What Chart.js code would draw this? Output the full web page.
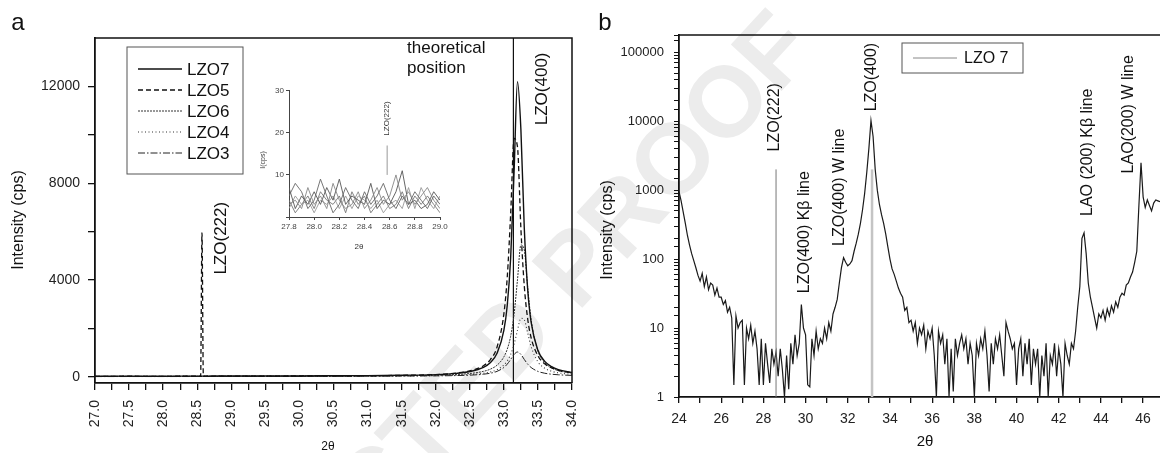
<!DOCTYPE html>
<html lang="en">
<head>
<meta charset="UTF-8">
<title>LZO XRD</title>
<script src="https://cdn.jsdelivr.net/npm/chart.js@4.4.1/dist/chart.umd.min.js"></script>
<style>
  html, body { margin: 0; padding: 0; background: #fff; }
  #wrap { position: relative; width: 1160px; height: 453px; overflow: hidden; }
  canvas { position: absolute; top: 0; z-index: 1; }
  #chartA { left: 0; }
  #chartB { left: 580px; }
  #inset { left: 245px; top: 84px; z-index: 2; }
  #mark {
    position: absolute; left: 400px; top: 455px; z-index: 0;
    transform: translate(-50%, -50%) rotate(-47.4deg);
    font: bold 100px "Liberation Sans", Arial, sans-serif;
    color: #ececec; white-space: nowrap;
  }
</style>
</head>
<body>
<div id="wrap">
  <div id="mark">UNCORRECTED PROOF</div>
  <canvas id="chartA" width="580" height="453"></canvas>
  <canvas id="inset" width="205" height="170"></canvas>
  <canvas id="chartB" width="580" height="453"></canvas>
</div>
<script>
  // ---- panel a : linear scale, five samples ----
  const aTheta = [27.0, 27.5, 28.0, 28.5, 28.55, 28.57, 28.59, 29.0, 29.5, 30.0, 30.5, 31.0, 31.5,
    32.0, 32.3, 32.5, 32.7, 32.8, 32.9, 33.0, 33.05, 33.1, 33.15, 33.2, 33.25, 33.3, 33.35,
    33.4, 33.5, 33.6, 33.7, 33.8, 34.0];
  const lzo7 = [28, 32, 30, 35, 33, 36, 34, 38, 40, 42, 48, 55, 70,
    97, 148, 223, 398, 590, 980, 1920, 2960, 4920, 8480, 12200, 10220, 6130, 3600,
    2265, 1100, 645, 425, 305, 185];
  const lzo5 = [25, 28, 27, 30, 30, 5950, 30, 33, 36, 40, 44, 52, 66,
    100, 160, 248, 463, 710, 1236, 2600, 4130, 6740, 9850, 9500, 6130, 3750, 2390,
    1620, 870, 540, 375, 275, 170];
  const lzo6 = [22, 25, 24, 27, 27, 28, 27, 30, 32, 35, 38, 42, 52,
    72, 100, 142, 231, 320, 485, 827, 1150, 1680, 2590, 4015, 5450, 5245, 3690,
    2365, 1070, 590, 375, 260, 155];
  const lzo4 = [18, 20, 21, 22, 22, 23, 22, 24, 26, 28, 30, 34, 42,
    55, 73, 98, 151, 204, 299, 491, 665, 934, 1353, 1929, 2423, 2357, 1807,
    1255, 623, 359, 235, 169, 105];
  const lzo3 = [15, 17, 16, 18, 18, 19, 18, 20, 22, 24, 26, 30, 36,
    45, 57, 74, 113, 153, 230, 390, 530, 722, 930, 1030, 930, 722, 530,
    390, 230, 153, 113, 89, 64];
  const theoryPos = 33.14;
  const aYTicks = [0, 2000, 4000, 6000, 8000, 10000, 12000];
  const aYLabels = [0, 4000, 8000, 12000];

  // inset (27.8 - 29.0)
  const insetTheta = [27.8, 27.85, 27.9, 27.95, 28.0, 28.05, 28.1, 28.15, 28.2, 28.25, 28.3, 28.35,
    28.4, 28.45, 28.5, 28.55, 28.6, 28.65, 28.7, 28.75, 28.8, 28.85, 28.9, 28.95, 29.0];
  const insetA = [5, 8, 6, 2, 4, 9, 5, 1, 3, 7, 4, 2, 6, 3, 5, 8, 4, 2, 5, 3, 6, 4, 2, 5, 3];
  const insetB = [3, 4, 2, 7, 3, 5, 2, 8, 4, 2, 3, 6, 2, 4, 7, 3, 5, 10, 4, 6, 3, 5, 7, 4, 2];
  const insetC = [7, 2, 5, 3, 6, 3, 7, 4, 9, 3, 5, 4, 3, 8, 2, 4, 3, 6, 11, 3, 4, 2, 3, 6, 4];
  const insetD = [2, 5, 3, 4, 1, 4, 3, 5, 2, 5, 2, 5, 4, 2, 4, 1, 3, 4, 2, 7, 2, 7, 4, 2, 5];
  const insetE = [4, 1, 3, 5, 2, 6, 4, 3, 5, 1, 6, 3, 5, 1, 3, 5, 2, 3, 6, 2, 5, 3, 5, 3, 1];
  const insetPeak = { t: 28.58, from: 10, to: 17 };

  // ---- panel b : log scale, LZO 7, 24.0 .. 46.8 step 0.1 ----
  const bStart = 24.0, bStep = 0.1;
  const bIntensity = [
    950, 700, 480, 330, 220, 160, 120, 95, 75, 58,
    48, 62, 40, 55, 36, 45, 42, 30, 38, 28,
    28, 22, 25, 17, 20, 14, 1.5, 15, 10, 12,
    13, 1.5, 10, 7, 11, 6, 9, 5, 1.5, 7,
    1.5, 6, 3, 1.6, 5, 3, 4.5, 2, 5, 2.5,
    1, 4, 1.3, 6, 3, 8, 4, 6, 22, 10,
    8, 1.5, 1.4, 7, 4, 9, 5, 7, 6, 10,
    7, 12, 9, 16, 20, 26, 45, 75, 105, 90,
    80, 85, 95, 130, 170, 230, 330, 520, 900, 1800,
    4000, 10200, 6000, 2000, 1000, 620, 440, 330, 230, 150,
    100, 72, 60, 48, 38, 32, 28, 18, 20, 12,
    13, 9, 12, 6, 10, 8, 11, 5, 9, 7,
    10, 4, 1, 9, 6, 8, 3, 7, 1, 5,
    1.2, 7, 4, 6, 8, 5, 7, 3, 6, 4,
    1, 6, 4, 7, 5, 9, 4, 1.2, 6, 3,
    7, 5, 8, 4, 2, 12, 9, 7, 5, 6,
    1.5, 5, 7, 2, 6, 3, 7, 1.5, 5, 3,
    5, 1, 4, 2, 6, 1, 4, 3, 6, 2,
    5, 3, 1, 6, 4, 3, 6, 5, 9, 20,
    40, 200, 240, 120, 45, 28, 20, 14, 10, 16,
    14, 18, 13, 19, 15, 21, 17, 24, 20, 28,
    32, 30, 42, 45, 55, 65, 90, 130, 600, 2500,
    800, 560, 720, 600, 500, 650, 720, 700, 680
  ];
  const refTheta = [28.6, 33.15];
  const refTop = [2000, 2000];

  const FONT = '"Liberation Sans", Arial, sans-serif';
  Chart.defaults.font.family = FONT;
  Chart.defaults.color = '#111';
  Chart.defaults.animation = false;

  function pts(xs, ys) { return xs.map((t, i) => ({ x: t, y: ys[i] })); }
  function noSidePad(s) { s.paddingLeft = 0; s.paddingRight = 0; }

  function vText(ctx, txt, x, y, size) {
    ctx.save();
    ctx.translate(x, y);
    ctx.rotate(-Math.PI / 2);
    ctx.font = size + 'px ' + FONT;
    ctx.textAlign = 'center';
    ctx.textBaseline = 'middle';
    ctx.fillText(txt, 0, 0);
    ctx.restore();
  }

  const seriesA = [
    { label: 'LZO7', data: lzo7, dash: [], width: 1.4, color: '#111' },
    { label: 'LZO5', data: lzo5, dash: [5, 3], width: 1.3, color: '#111' },
    { label: 'LZO6', data: lzo6, dash: [2, 1], width: 1, color: '#333' },
    { label: 'LZO4', data: lzo4, dash: [1, 2.5], width: 1.1, color: '#333' },
    { label: 'LZO3', data: lzo3, dash: [7, 2, 1.5, 2], width: 1, color: '#222' }
  ];

  const notesA = [
    { text: 'LZO(222)', t: 28.86, v: 5730 },
    { text: 'LZO(400)', t: 33.56, v: 11900 }
  ];

  const decorA = {
    id: 'decorA',
    afterDraw(chart) {
      const { ctx, chartArea: ca, scales: { x, y } } = chart;
      ctx.save();
      ctx.strokeStyle = '#111';
      ctx.lineWidth = 1.5;
      ctx.beginPath();
      ctx.moveTo(ca.left, ca.top);
      ctx.lineTo(ca.right, ca.top);
      ctx.lineTo(ca.right, ca.bottom);
      ctx.stroke();

      ctx.fillStyle = '#111';
      notesA.forEach(n => vText(ctx, n.text, x.getPixelForValue(n.t), y.getPixelForValue(n.v), 17));
      ctx.font = '17px ' + FONT;
      ctx.textAlign = 'left';
      ctx.textBaseline = 'middle';
      ctx.fillText('theoretical', x.getPixelForValue(31.58), y.getPixelForValue(13570));
      ctx.fillText('position', x.getPixelForValue(31.58), y.getPixelForValue(12740));

      // legend
      const bx = ca.left + 32, by = ca.top + 9;
      ctx.lineWidth = 1;
      ctx.strokeStyle = '#555';
      ctx.strokeRect(bx, by, 116, 127);
      seriesA.forEach((s, i) => {
        const ly = by + 22 + i * 21;
        ctx.setLineDash(s.dash);
        ctx.lineWidth = s.width;
        ctx.strokeStyle = s.color;
        ctx.beginPath();
        ctx.moveTo(bx + 11, ly);
        ctx.lineTo(bx + 55, ly);
        ctx.stroke();
        ctx.setLineDash([]);
        ctx.fillText(s.label, bx + 60, ly + 1);
      });

      // axis titles, panel letter
      vText(ctx, 'Intensity (cps)', 19, 220, 16);
      ctx.font = '12px ' + FONT;
      ctx.textAlign = 'center';
      ctx.fillText('2θ', 328, 447);
      ctx.font = '24px ' + FONT;
      ctx.textBaseline = 'alphabetic';
      ctx.fillText('a', 18, 30);
      ctx.restore();
    }
  };

  new Chart(document.getElementById('chartA'), {
    type: 'line',
    data: {
      datasets: seriesA.map(s => ({
        label: s.label,
        data: pts(aTheta, s.data),
        borderColor: s.color,
        borderWidth: s.width,
        borderDash: s.dash,
        pointRadius: 0,
        cubicInterpolationMode: 'monotone',
        fill: false
      })).concat([{
        label: 'theoretical',
        data: [{ x: theoryPos, y: -250 }, { x: theoryPos, y: 14000 }],
        borderColor: '#111',
        borderWidth: 1.2,
        pointRadius: 0
      }])
    },
    options: {
      responsive: false,
      events: [],
      layout: { padding: { left: 0, top: 38, right: 8, bottom: 0 } },
      plugins: { legend: { display: false }, tooltip: { enabled: false } },
      scales: {
        x: {
          type: 'linear', min: 27, max: 34,
          afterFit: s => { s.height = 70; noSidePad(s); },
          border: { color: '#111', width: 1.8 },
          grid: { drawOnChartArea: false, tickLength: 7, color: '#111', lineWidth: 1.3 },
          ticks: {
            stepSize: 0.25, autoSkip: false, includeBounds: false,
            minRotation: 90, maxRotation: 90, padding: 10,
            font: { size: 14 }, color: '#222',
            callback: v => (Math.abs(v * 2 - Math.round(v * 2)) < 1e-6 ? v.toFixed(1) : '')
          }
        },
        y: {
          min: -250, max: 14000,
          afterFit: s => { s.width = 95; },
          afterBuildTicks: s => { s.ticks = aYTicks.map(v => ({ value: v })); },
          border: { color: '#111', width: 1.8 },
          grid: { drawOnChartArea: false, tickLength: 7, color: '#111', lineWidth: 1.3 },
          ticks: {
            autoSkip: false, padding: 8,
            font: { size: 14 }, color: '#222',
            callback: v => (aYLabels.includes(v) ? String(v) : '')
          }
        }
      }
    },
    plugins: [decorA]
  });

  // ---- inset ----
  const insetStyles = [
    { data: insetA, color: '#666' },
    { data: insetB, color: '#888' },
    { data: insetC, color: '#555' },
    { data: insetD, color: '#999' },
    { data: insetE, color: '#777' }
  ];
  const decorInset = {
    id: 'decorInset',
    afterDraw(chart) {
      const { ctx, scales: { x, y } } = chart;
      ctx.save();
      ctx.fillStyle = '#333';
      vText(ctx, 'LZO(222)', x.getPixelForValue(insetPeak.t), y.getPixelForValue(23.4), 8);
      vText(ctx, 'I(cps)', 18, 76, 7);
      ctx.font = '8px ' + FONT;
      ctx.textAlign = 'center';
      ctx.textBaseline = 'middle';
      ctx.fillText('2θ', 114, 163);
      ctx.restore();
    }
  };
  new Chart(document.getElementById('inset'), {
    type: 'line',
    data: {
      datasets: insetStyles.map(s => ({
        data: pts(insetTheta, s.data),
        borderColor: s.color,
        borderWidth: 0.9,
        pointRadius: 0
      })).concat([{
        data: [{ x: insetPeak.t, y: insetPeak.from }, { x: insetPeak.t, y: insetPeak.to }],
        borderColor: '#999',
        borderWidth: 1,
        pointRadius: 0
      }])
    },
    options: {
      responsive: false,
      events: [],
      layout: { padding: { left: 0, top: 6, right: 10, bottom: 0 } },
      plugins: { legend: { display: false }, tooltip: { enabled: false } },
      scales: {
        x: {
          type: 'linear', min: 27.8, max: 29.0,
          afterFit: s => { s.height = 37; noSidePad(s); },
          border: { color: '#444', width: 1 },
          grid: { drawOnChartArea: false, tickLength: 3, color: '#444' },
          ticks: { stepSize: 0.2, autoSkip: false, maxRotation: 0, padding: 2,
            font: { size: 8 }, color: '#444', callback: v => v.toFixed(1) }
        },
        y: {
          min: 0, max: 30,
          afterFit: s => { s.width = 44; },
          border: { color: '#444', width: 1 },
          grid: { drawOnChartArea: false, tickLength: 3, color: '#444' },
          ticks: { stepSize: 10, padding: 2, font: { size: 8 }, color: '#444',
            callback: v => (v === 0 ? '' : v) }
        }
      }
    },
    plugins: [decorInset]
  });

  // ---- panel b ----
  const bTheta = bIntensity.map((_, i) => +(bStart + i * bStep).toFixed(2));
  const notesB = [
    { text: 'LZO(222)', t: 28.55, v: 11400 },
    { text: 'LZO(400) Kβ line', t: 29.97, v: 246 },
    { text: 'LZO(400) W line', t: 31.63, v: 1100 },
    { text: 'LZO(400)', t: 33.15, v: 43600 },
    { text: 'LAO (200) Kβ line', t: 43.35, v: 3550 },
    { text: 'LAO(200) W line', t: 45.29, v: 12600 }
  ];
  const decorB = {
    id: 'decorB',
    afterDraw(chart) {
      const { ctx, chartArea: ca, scales: { x, y } } = chart;
      ctx.save();
      ctx.strokeStyle = '#111';
      ctx.lineWidth = 1.5;
      ctx.beginPath();
      ctx.moveTo(ca.left, ca.top);
      ctx.lineTo(ca.right, ca.top);
      ctx.stroke();

      ctx.fillStyle = '#111';
      notesB.forEach(n => vText(ctx, n.text, x.getPixelForValue(n.t), y.getPixelForValue(n.v), 16));

      // legend
      const bx = ca.left + 223, by = ca.top + 8;
      ctx.lineWidth = 1;
      ctx.strokeStyle = '#555';
      ctx.strokeRect(bx, by, 121, 30);
      ctx.strokeStyle = '#888';
      ctx.beginPath();
      ctx.moveTo(bx + 11, by + 15);
      ctx.lineTo(bx + 55, by + 15);
      ctx.stroke();
      ctx.font = '16px ' + FONT;
      ctx.textAlign = 'left';
      ctx.textBaseline = 'middle';
      ctx.fillText('LZO 7', bx + 62, by + 16);

      vText(ctx, 'Intensity (cps)', 28, 230, 16);
      ctx.font = '15px ' + FONT;
      ctx.textAlign = 'center';
      ctx.fillText('2θ', 345, 442);
      ctx.font = '24px ' + FONT;
      ctx.textBaseline = 'alphabetic';
      ctx.fillText('b', 25, 30);
      ctx.restore();
    }
  };

  new Chart(document.getElementById('chartB'), {
    type: 'line',
    data: {
      datasets: refTheta.map((t, i) => ({
        data: [{ x: t, y: 1 }, { x: t, y: refTop[i] }],
        borderColor: i === 0 ? '#777' : '#c4c4c4',
        borderWidth: i === 0 ? 1 : 2.5,
        pointRadius: 0
      })).concat([{
        label: 'LZO 7',
        data: pts(bTheta, bIntensity),
        borderColor: '#1a1a1a',
        borderWidth: 1.2,
        pointRadius: 0
      }])
    },
    options: {
      responsive: false,
      events: [],
      layout: { padding: { left: 0, top: 35, right: 0, bottom: 0 } },
      plugins: { legend: { display: false }, tooltip: { enabled: false } },
      scales: {
        x: {
          type: 'linear', min: 24, max: 46.8,
          afterFit: s => { s.height = 56; noSidePad(s); },
          border: { color: '#111', width: 1.8 },
          grid: { drawOnChartArea: false, tickLength: 6, color: '#111', lineWidth: 1.3 },
          ticks: {
            stepSize: 1, autoSkip: false, includeBounds: false, maxRotation: 0, padding: 8,
            font: { size: 14 }, color: '#222',
            callback: v => (v % 2 === 0 ? v : '')
          }
        },
        y: {
          type: 'logarithmic', min: 1, max: 178000,
          afterFit: s => { s.width = 99; },
          border: { color: '#111', width: 1.8 },
          grid: { drawOnChartArea: false, tickLength: 5, color: '#111', lineWidth: 1 },
          ticks: {
            autoSkip: false, padding: 10, font: { size: 13 }, color: '#222',
            callback: v => {
              const l = Math.log10(v);
              return Math.abs(l - Math.round(l)) < 1e-9 ? String(v) : '';
            }
          }
        }
      }
    },
    plugins: [decorB]
  });
</script>
</body>
</html>
